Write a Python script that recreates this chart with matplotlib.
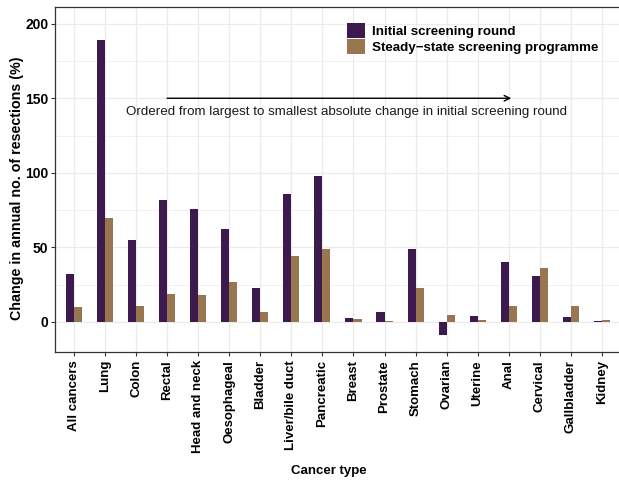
import matplotlib
matplotlib.use("Agg")
import matplotlib.pyplot as plt
from matplotlib.ticker import MultipleLocator
from matplotlib.patches import Patch
import numpy as np

plt.rcParams['font.family'] = ['Liberation Sans', 'DejaVu Sans']

cancer_types = ["All cancers", "Lung", "Colon", "Rectal", "Head and neck",
                "Oesophageal", "Bladder", "Liver/bile duct", "Pancreatic",
                "Breast", "Prostate", "Stomach", "Ovarian", "Uterine", "Anal",
                "Cervical", "Gallbladder", "Kidney"]
initial_round = [32, 189, 55, 82, 76, 62.5, 23, 86, 98, 2.5, 6.5, 49, -9,
                 3.8, 40.5, 30.5, 3, 0.5]
steady_state = [10, 70, 10.5, 19, 18, 27, 6.5, 44, 49, 1.8, 0.5, 22.5, 4.5,
                1, 10.5, 36, 10.5, 1]
series_names = ["Initial screening round", "Steady\u2212state screening programme"]
series_colors = ["#3C1A4E", "#98764F"]

W, H = 619, 482
fig = plt.figure(figsize=(W / 100, H / 100), dpi=100)
ax_left, ax_right, ax_top, ax_bottom = 55.3, 620.6, 7.3, 351.7
ax = fig.add_axes([ax_left / W, 1 - ax_bottom / H,
                   (ax_right - ax_left) / W, (ax_bottom - ax_top) / H])

x = np.arange(len(cancer_types))
w = 0.26
ax.bar(x - w / 2, initial_round, width=w, color=series_colors[0], zorder=3)
ax.bar(x + w / 2, steady_state, width=w, color=series_colors[1], zorder=3)

ax.set_xlim(-0.6, len(cancer_types) - 1 + 0.6)
ax.set_ylim(-20, 211)
ax.yaxis.set_major_locator(MultipleLocator(50))
ax.yaxis.set_minor_locator(MultipleLocator(25))
ax.set_xticks(x)
ax.set_xticklabels(cancer_types, rotation=90, fontsize=9.5, fontweight='bold')
for lab in ax.get_yticklabels():
    lab.set_fontweight('bold')
ax.tick_params(axis='y', labelsize=10, length=3, width=0.8, colors='#333333',
               labelcolor='black', pad=2)
ax.tick_params(axis='x', length=3, width=0.8, colors='#333333',
               labelcolor='black', pad=3)
ax.tick_params(which='minor', length=0)

ax.grid(which='major', color='#EBEBEB', linewidth=0.9, zorder=0)
ax.grid(which='minor', axis='y', color='#EBEBEB', linewidth=0.5, zorder=0)
ax.set_axisbelow(True)
for s in ax.spines.values():
    s.set_color('#333333')
    s.set_linewidth(0.9)

ax.set_ylabel("Change in annual no. of resections (%)", fontsize=10.3,
              fontweight='bold')
ax.yaxis.set_label_coords(-0.056, 0.474)
ax.set_xlabel("Cancer type", fontsize=9.5, fontweight='bold')
ax.xaxis.set_label_coords(0.483, -0.33)

ax.annotate("", xy=(14.08, 150), xytext=(3.0, 150),
            arrowprops=dict(arrowstyle='->', color='black', lw=1,
                            mutation_scale=10, shrinkA=0, shrinkB=0))
ax.text(8.76, 140.8,
        "Ordered from largest to smallest absolute change in initial screening round",
        ha='center', va='center', fontsize=9.6, color='#1a1a1a')

handles = [Patch(facecolor=c, edgecolor='none') for c in series_colors]
fs_leg = 9.6
fs_px = fs_leg * 100 / 72
leg = fig.legend(handles, series_names, loc='upper left',
                 bbox_to_anchor=(347 / W, 1 - 22.7 / H),
                 bbox_transform=fig.transFigure, frameon=False,
                 prop={'weight': 'bold', 'size': fs_leg},
                 handlelength=18 / fs_px, handleheight=18 / fs_px,
                 handletextpad=6.7 / fs_px, labelspacing=1.2 / fs_px,
                 borderpad=0, borderaxespad=0)

fig.savefig("out.png", dpi=100)
